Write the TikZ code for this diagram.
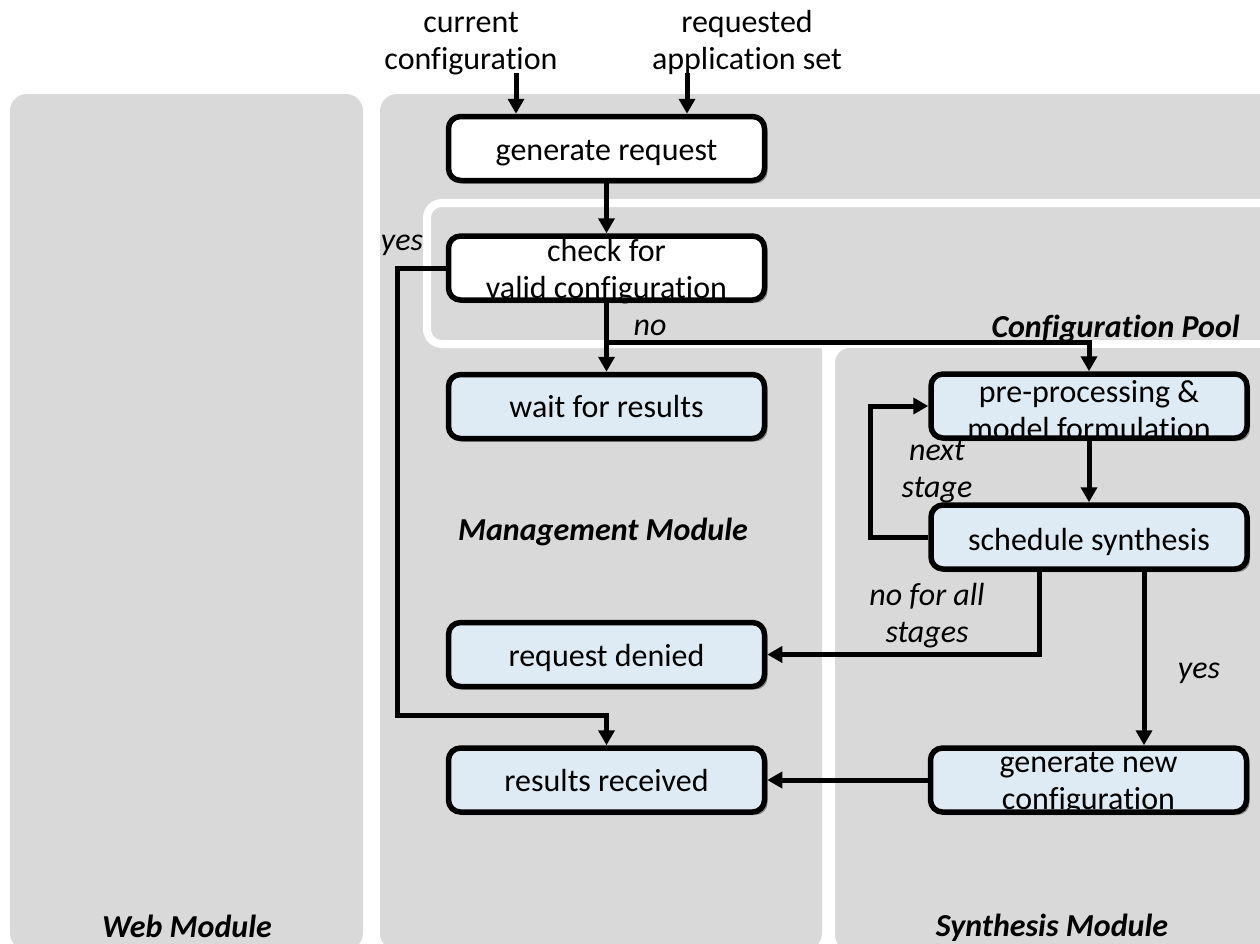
\documentclass[tikz,border=0pt]{standalone}
\usepackage{fontspec}
\setmainfont{Carlito}[Ligatures={NoCommon,NoContextual}]
\usetikzlibrary{arrows.meta,shadows}

\definecolor{panelgray}{HTML}{D9D9D9}
\definecolor{boxblue}{HTML}{DEEAF4}

% box text: first baseline shifted by #1 from the box centre
\newcommand{\boxtext}[2]{\raisebox{#1}[0pt][0pt]{\begin{tabular}[t]{@{}c@{}}#2\end{tabular}}}
\newcommand{\stack}[1]{\begin{tabular}[t]{@{}c@{}}#1\end{tabular}}

\begin{document}
\begin{tikzpicture}[x=1pt,y=-1pt,
  font=\fontsize{32}{37.5}\selectfont,
  panel/.style={fill=panelgray, rounded corners=17pt},
  stepbox/.style={draw=black, line width=5.5pt, rounded corners=12pt,
    minimum width=316pt, minimum height=64pt, inner sep=0pt,
    drop shadow={shadow xshift=3pt, shadow yshift=-3pt, fill=black!70, opacity=0.55}},
  whitebox/.style={stepbox, fill=white},
  bluebox/.style={stepbox, fill=boxblue},
  arr/.style={line width=5pt, -{Triangle[length=15pt,width=16pt]}},
  lbl/.style={anchor=base, inner sep=0pt},
  note/.style={lbl, font=\fontsize{32}{37.5}\selectfont\itshape},
  modname/.style={lbl, font=\fontsize{32}{37.5}\selectfont\bfseries\itshape}]

\clip (0,0) rectangle (1260,943);
\fill[white] (0,0) rectangle (1260,943);

% module panels
\path[panel] (10,94) rectangle (363,950);
\path[panel] (380,94) rectangle (1300,950);
\fill[white] (808,340) rectangle (1300,960);
\path[panel] (380,300) rectangle (822,950);
\path[panel, draw=white, line width=8pt, rounded corners=15pt] (427,203) rectangle (1300,344);
\path[panel, rounded corners=15pt] (835,348) rectangle (1300,950);

% panel titles
\node[modname] (webt) at (187,937) {Web Module};
\node[modname] (mgmtt) at (603,540) {Management Module};
\node[modname, anchor=base east] (poolt) at (1240,337) {Configuration Pool};
\node[modname] (syntht) at (1052,936) {Synthesis Module};

% process steps
\node[whitebox] (gen) at (606.5,148.5) {\boxtext{-12pt}{generate request}};
\node[whitebox] (check) at (606.5,268) {\boxtext{7pt}{check for\\valid configuration}};
\node[bluebox] (wait) at (606.5,406.5) {\boxtext{-11pt}{wait for results}};
\node[bluebox] (denied) at (606.5,654.5) {\boxtext{-12pt}{request denied}};
\node[bluebox] (received) at (606.5,780) {\boxtext{-11pt}{results received}};
\node[bluebox] (prep) at (1089,406) {\boxtext{4pt}{pre-processing \&\\model formulation}};
\node[bluebox] (sched) at (1089,537) {\boxtext{-13pt}{schedule synthesis}};
\node[bluebox] (newconf) at (1088.5,780) {\boxtext{8pt}{generate new\\configuration}};

% inputs
\node[lbl] (incur) at (471,32) {\stack{current\\configuration}};
\node[lbl] (inreq) at (747,32) {\stack{requested\\application set}};
\coordinate (incurend) at (516,73);
\coordinate (inreqend) at (687,73);

% connector routing points
\coordinate (yesturn) at (397,715);
\coordinate (nosplit) at (606.5,342);
\coordinate (loopx) at (870,0);
\coordinate (nofall) at (1039,654.5);
\coordinate (yesx) at (1144,0);

% connectors
\draw[arr] (incurend) -- (incurend |- gen.north);
\draw[arr] (inreqend) -- (inreqend |- gen.north);
\draw[arr] (gen) -- (check);
\draw[arr] (check.west) -| (yesturn) -| (received.north);
\draw[arr] (check) -- (wait);
\draw[arr] (nosplit) -| (prep.north);
\draw[arr] (prep) -- (sched);
\draw[arr] (sched.west) -| (loopx |- prep.west) -- (prep.west);
\draw[arr] (sched.south -| nofall) -- (nofall) -- (denied.east);
\draw[arr] (sched.south -| yesx) -- (newconf.north -| yesx);
\draw[arr] (newconf) -- (received);

% branch labels
\node[note] (yesl) at (402,250) {yes};
\node[note] (nol) at (650,335) {no};
\node[note] (nextl) at (937,460) {\stack{next\\stage}};
\node[note] (noalll) at (927,605) {\stack{no for all\\stages}};
\node[note] (yesr) at (1199,678) {yes};

\end{tikzpicture}
\end{document}
